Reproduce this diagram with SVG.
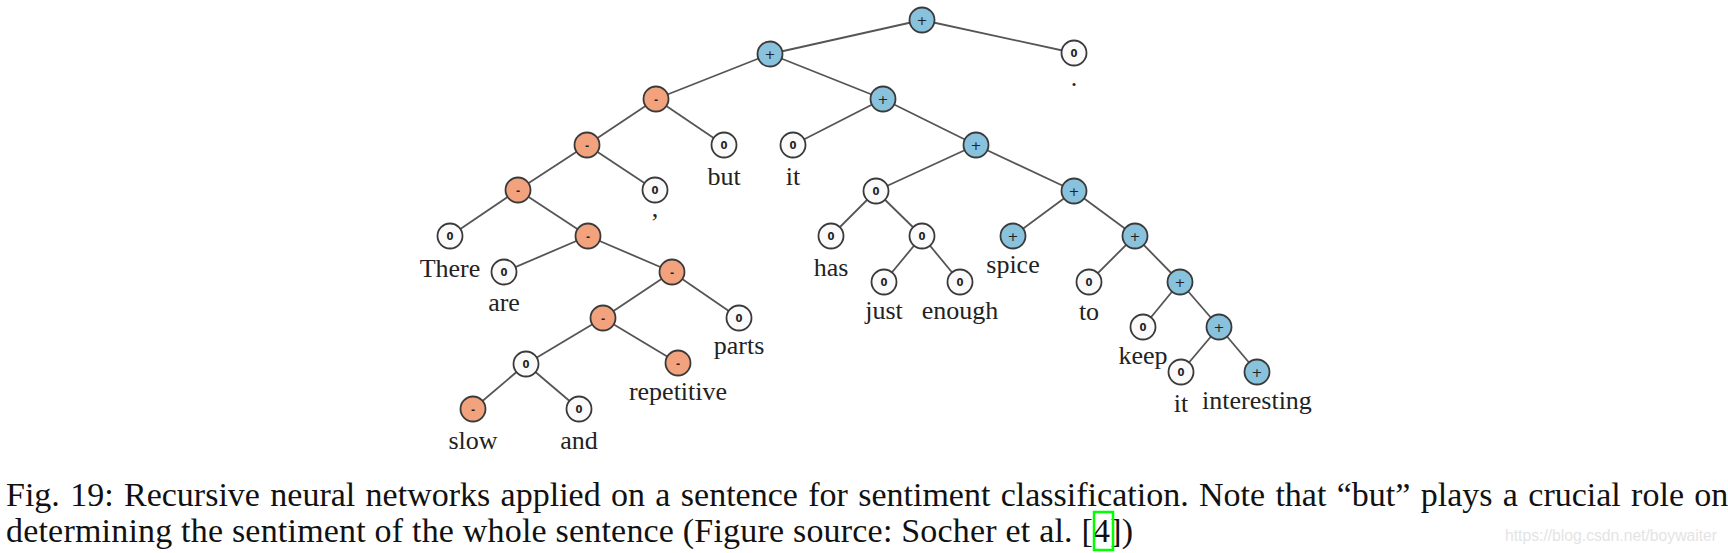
<svg xmlns="http://www.w3.org/2000/svg" width="1728" height="553" viewBox="0 0 1728 553">
<style>
.e{stroke:#555;stroke-width:1.8;fill:none}
circle{stroke:#3a3a3a;stroke-width:1.8}
.p circle{fill:#88c2dc}
.m circle{fill:#f2a27c}
.z circle{fill:#fafafa}
.s{font-family:"DejaVu Sans",sans-serif;font-weight:bold;font-size:10px;fill:#222;text-anchor:middle}
.s2{font-family:"DejaVu Sans",sans-serif;font-size:13px;fill:#222;text-anchor:middle}
.l{font-family:"Liberation Serif",serif;font-size:26px;fill:#222;text-anchor:middle}
.c{font-family:"Liberation Serif",serif;font-size:34px;fill:#111}
</style>
<rect width="1728" height="553" fill="#fff"/>
<g id="edges">
<line class="e" x1="922" y1="20" x2="770" y2="54"/>
<line class="e" x1="922" y1="20" x2="1074" y2="53"/>
<line class="e" x1="770" y1="54" x2="656" y2="99"/>
<line class="e" x1="770" y1="54" x2="883" y2="99"/>
<line class="e" x1="656" y1="99" x2="587" y2="145"/>
<line class="e" x1="656" y1="99" x2="724" y2="145"/>
<line class="e" x1="587" y1="145" x2="518" y2="190"/>
<line class="e" x1="587" y1="145" x2="655" y2="190"/>
<line class="e" x1="518" y1="190" x2="450" y2="236"/>
<line class="e" x1="518" y1="190" x2="588" y2="236"/>
<line class="e" x1="588" y1="236" x2="504" y2="272"/>
<line class="e" x1="588" y1="236" x2="672" y2="272"/>
<line class="e" x1="672" y1="272" x2="603" y2="318"/>
<line class="e" x1="672" y1="272" x2="739" y2="318"/>
<line class="e" x1="603" y1="318" x2="526" y2="364"/>
<line class="e" x1="603" y1="318" x2="678" y2="363"/>
<line class="e" x1="526" y1="364" x2="473" y2="409"/>
<line class="e" x1="526" y1="364" x2="579" y2="409"/>
<line class="e" x1="883" y1="99" x2="793" y2="145"/>
<line class="e" x1="883" y1="99" x2="976" y2="145"/>
<line class="e" x1="976" y1="145" x2="876" y2="191"/>
<line class="e" x1="976" y1="145" x2="1074" y2="191"/>
<line class="e" x1="876" y1="191" x2="831" y2="236"/>
<line class="e" x1="876" y1="191" x2="922" y2="236"/>
<line class="e" x1="922" y1="236" x2="884" y2="282"/>
<line class="e" x1="922" y1="236" x2="960" y2="282"/>
<line class="e" x1="1074" y1="191" x2="1013" y2="236"/>
<line class="e" x1="1074" y1="191" x2="1135" y2="236"/>
<line class="e" x1="1135" y1="236" x2="1089" y2="282"/>
<line class="e" x1="1135" y1="236" x2="1180" y2="282"/>
<line class="e" x1="1180" y1="282" x2="1143" y2="327"/>
<line class="e" x1="1180" y1="282" x2="1219" y2="327"/>
<line class="e" x1="1219" y1="327" x2="1181" y2="372"/>
<line class="e" x1="1219" y1="327" x2="1257" y2="372"/>
</g>
<g id="root" class="p"><circle cx="922" cy="20" r="12.5"/><text class="s2" x="922" y="24.5">+</text></g>
<g id="n-period" class="z"><circle cx="1074" cy="53" r="12.5"/><text class="s" x="1074" y="56.5">0</text><text class="l" x="1074" y="86">.</text></g>
<g id="n1" class="p"><circle cx="770" cy="54" r="12.5"/><text class="s2" x="770" y="58.5">+</text></g>
<g id="m1" class="m"><circle cx="656" cy="99" r="12.5"/><text class="s" x="656" y="102.5">-</text></g>
<g id="p2" class="p"><circle cx="883" cy="99" r="12.5"/><text class="s2" x="883" y="103.5">+</text></g>
<g id="m2" class="m"><circle cx="587" cy="145" r="12.5"/><text class="s" x="587" y="148.5">-</text></g>
<g id="n-but" class="z"><circle cx="724" cy="145" r="12.5"/><text class="s" x="724" y="148.5">0</text><text class="l" x="724" y="185">but</text></g>
<g id="n-it1" class="z"><circle cx="793" cy="145" r="12.5"/><text class="s" x="793" y="148.5">0</text><text class="l" x="793" y="185">it</text></g>
<g id="p3" class="p"><circle cx="976" cy="145" r="12.5"/><text class="s2" x="976" y="149.5">+</text></g>
<g id="m3" class="m"><circle cx="518" cy="190" r="12.5"/><text class="s" x="518" y="193.5">-</text></g>
<g id="n-comma" class="z"><circle cx="655" cy="190" r="12.5"/><text class="s" x="655" y="193.5">0</text><text class="l" x="655" y="217">,</text></g>
<g id="z2" class="z"><circle cx="876" cy="191" r="12.5"/><text class="s" x="876" y="194.5">0</text></g>
<g id="p4" class="p"><circle cx="1074" cy="191" r="12.5"/><text class="s2" x="1074" y="195.5">+</text></g>
<g id="n-there" class="z"><circle cx="450" cy="236" r="12.5"/><text class="s" x="450" y="239.5">0</text><text class="l" x="450" y="277">There</text></g>
<g id="m4" class="m"><circle cx="588" cy="236" r="12.5"/><text class="s" x="588" y="239.5">-</text></g>
<g id="n-has" class="z"><circle cx="831" cy="236" r="12.5"/><text class="s" x="831" y="239.5">0</text><text class="l" x="831" y="276">has</text></g>
<g id="z3" class="z"><circle cx="922" cy="236" r="12.5"/><text class="s" x="922" y="239.5">0</text></g>
<g id="n-spice" class="p"><circle cx="1013" cy="236" r="12.5"/><text class="s2" x="1013" y="240.5">+</text><text class="l" x="1013" y="273">spice</text></g>
<g id="p5" class="p"><circle cx="1135" cy="236" r="12.5"/><text class="s2" x="1135" y="240.5">+</text></g>
<g id="n-are" class="z"><circle cx="504" cy="272" r="12.5"/><text class="s" x="504" y="275.5">0</text><text class="l" x="504" y="311">are</text></g>
<g id="m5" class="m"><circle cx="672" cy="272" r="12.5"/><text class="s" x="672" y="275.5">-</text></g>
<g id="n-just" class="z"><circle cx="884" cy="282" r="12.5"/><text class="s" x="884" y="285.5">0</text><text class="l" x="884" y="319">just</text></g>
<g id="n-enough" class="z"><circle cx="960" cy="282" r="12.5"/><text class="s" x="960" y="285.5">0</text><text class="l" x="960" y="319">enough</text></g>
<g id="n-to" class="z"><circle cx="1089" cy="282" r="12.5"/><text class="s" x="1089" y="285.5">0</text><text class="l" x="1089" y="320">to</text></g>
<g id="p6" class="p"><circle cx="1180" cy="282" r="12.5"/><text class="s2" x="1180" y="286.5">+</text></g>
<g id="m6" class="m"><circle cx="603" cy="318" r="12.5"/><text class="s" x="603" y="321.5">-</text></g>
<g id="n-parts" class="z"><circle cx="739" cy="318" r="12.5"/><text class="s" x="739" y="321.5">0</text><text class="l" x="739" y="354">parts</text></g>
<g id="n-keep" class="z"><circle cx="1143" cy="327" r="12.5"/><text class="s" x="1143" y="330.5">0</text><text class="l" x="1143" y="364">keep</text></g>
<g id="p7" class="p"><circle cx="1219" cy="327" r="12.5"/><text class="s2" x="1219" y="331.5">+</text></g>
<g id="z1" class="z"><circle cx="526" cy="364" r="12.5"/><text class="s" x="526" y="367.5">0</text></g>
<g id="n-repetitive" class="m"><circle cx="678" cy="363" r="12.5"/><text class="s" x="678" y="366.5">-</text><text class="l" x="678" y="400">repetitive</text></g>
<g id="n-it2" class="z"><circle cx="1181" cy="372" r="12.5"/><text class="s" x="1181" y="375.5">0</text><text class="l" x="1181" y="412">it</text></g>
<g id="n-interesting" class="p"><circle cx="1257" cy="372" r="12.5"/><text class="s2" x="1257" y="376.5">+</text><text class="l" x="1257" y="409">interesting</text></g>
<g id="n-slow" class="m"><circle cx="473" cy="409" r="12.5"/><text class="s" x="473" y="412.5">-</text><text class="l" x="473" y="449">slow</text></g>
<g id="n-and" class="z"><circle cx="579" cy="409" r="12.5"/><text class="s" x="579" y="412.5">0</text><text class="l" x="579" y="449">and</text></g>
<g id="caption">
<text class="c" x="6" y="506" word-spacing="1.85">Fig. 19: Recursive neural networks applied on a sentence for sentiment classification. Note that “but” plays a crucial role on</text>
<text class="c" x="6" y="542" textLength="1127" lengthAdjust="spacing">determining the sentiment of the whole sentence (Figure source: Socher et al. [4])</text>
<rect x="1094" y="512" width="19" height="38" fill="none" stroke="#00ff00" stroke-width="2.5"/>
<text x="1505" y="541" font-family="Liberation Sans,sans-serif" font-size="16" fill="#e4e4e4" textLength="212" lengthAdjust="spacingAndGlyphs">https://blog.csdn.net/boywaiter</text>
</g>
</svg>
